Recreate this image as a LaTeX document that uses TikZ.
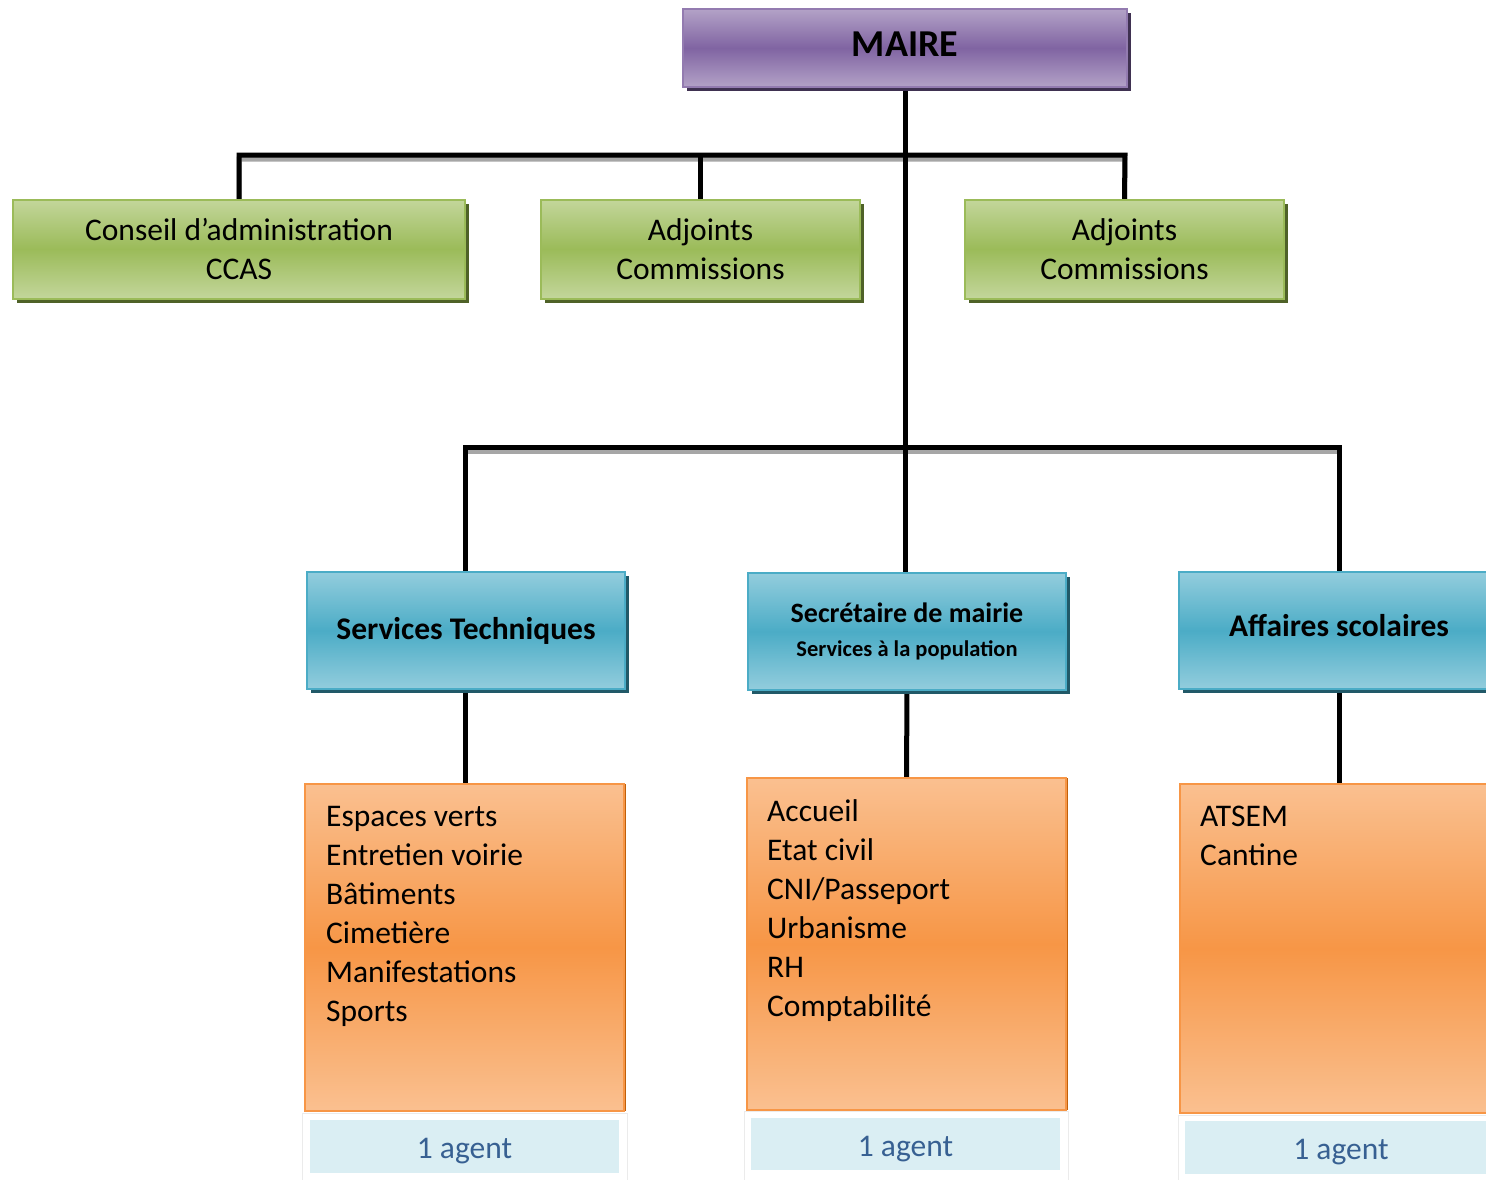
\documentclass[tikz,border=0pt]{standalone}
\usepackage{fontspec}
\setmainfont{Carlito}
\usetikzlibrary{shadows,backgrounds}
\definecolor{purT}{HTML}{B3A2C7}
\definecolor{purM}{HTML}{8064A2}
\definecolor{purS}{HTML}{3F3151}
\definecolor{grnT}{HTML}{C3D69B}
\definecolor{grnM}{HTML}{9BBB59}
\definecolor{grnS}{HTML}{4F6228}
\definecolor{bluT}{HTML}{93CDDD}
\definecolor{bluM}{HTML}{4BACC6}
\definecolor{bluS}{HTML}{215968}
\definecolor{orgT}{HTML}{FAC090}
\definecolor{orgM}{HTML}{F79646}
\definecolor{orgS}{HTML}{C0600A}
\definecolor{agtF}{HTML}{DAEEF3}
\definecolor{agtT}{HTML}{376092}
\tikzset{
  boxbase/.style={draw, line width=2pt, inner sep=0pt, align=center},
  mairebox/.style={boxbase, draw=purM!85!white, top color=purT, bottom color=purT, middle color=purM,
    drop shadow={shadow xshift=4pt, shadow yshift=-4pt, fill=purS, opacity=1},
    font=\fontsize{38}{45}\selectfont\bfseries},
  greenbox/.style={boxbase, draw=grnM, top color=grnT, bottom color=grnT, middle color=grnM,
    drop shadow={shadow xshift=4pt, shadow yshift=-4pt, fill=grnS, opacity=1},
    minimum height=99pt, font=\fontsize{31.5}{39}\selectfont},
  bluebox/.style={boxbase, draw=bluM, top color=bluT, bottom color=bluT, middle color=bluM,
    drop shadow={shadow xshift=4pt, shadow yshift=-4pt, fill=bluS, opacity=1},
    minimum height=117pt, minimum width=318pt, font=\fontsize{31.5}{39}\selectfont\bfseries},
  orangebox/.style={boxbase, draw=orgM, top color=orgT, bottom color=orgT, middle color=orgM,
    drop shadow={shadow xshift=2pt, shadow yshift=0pt, fill=orgS, opacity=1},
    minimum width=319pt},
  listtext/.style={anchor=north west, inner sep=0pt, align=left, font=\fontsize{31.5}{39}\selectfont},
  agentbox/.style={fill=agtF, draw=none, inner sep=0pt, minimum height=53pt, minimum width=309pt,
    text=agtT, font=\fontsize{31.5}{39}\selectfont},
  agentframe/.style={draw=black!8, line width=1pt, fill=white},
  conn/.style={line width=5pt, line join=miter, line cap=rect,
    preaction={draw=black!35, line width=5pt, transform canvas={yshift=-4pt}}},
}
\begin{document}
\begin{tikzpicture}[x=1pt,y=-1pt]
\useasboundingbox (0,0) rectangle (1486,1179);
\clip (0,0) rectangle (1486,1179);

% top
\node[mairebox, minimum width=444pt, minimum height=78pt] (maire) at (905,48) {\raisebox{-8pt}[0pt][0pt]{MAIRE}};
\node[greenbox, minimum width=452pt] (ccas) at (239,249) {Conseil d’administration\\CCAS};
\node[greenbox, minimum width=319pt] (adj1) at (700.5,249) {Adjoints\\Commissions};
\node[greenbox, minimum width=319pt] (adj2) at (1124.5,249) {Adjoints\\Commissions};

% services
\node[bluebox] (tech) at (466,630.5) {Services Techniques};
\node[bluebox, font=\fontsize{28}{34}\selectfont\bfseries] (sec) at (907,631.5) {Secrétaire de mairie\\{\fontsize{22.5}{28}\selectfont Services à la population}};
\node[bluebox, minimum width=320pt] (aff) at (1339,630.5) {\raisebox{-6pt}[0pt][0pt]{Affaires scolaires}};

% orange
\node[orangebox, minimum height=327pt] (o1) at (464.5,947.5) {};
\node[orangebox, minimum height=332pt] (o2) at (906.5,944) {};
\node[orangebox, minimum height=329pt, minimum width=320pt] (o3) at (1340,948.5) {};

\node[listtext] (t1) at ([xshift=22pt,yshift=-23pt]o1.north west) {Espaces verts\\Entretien voirie\\Bâtiments\\Cimetière\\Manifestations\\Sports};
\node[listtext] (t2) at ([xshift=21pt,yshift=-22pt]o2.north west) {Accueil\\Etat civil\\CNI/Passeport\\Urbanisme\\RH\\Comptabilité};
\node[listtext] (t3) at ([xshift=21pt,yshift=-23pt]o3.north west) {ATSEM\\Cantine};

% agents
\draw[agentframe] (302,1113) rectangle (627,1182);
\draw[agentframe] (744,1111) rectangle (1068,1182);
\draw[agentframe] (1178,1115) rectangle (1500,1182);
\node[agentbox] (a1) at (464.5,1146.5) {\raisebox{-12pt}[0pt][0pt]{1 agent}};
\node[agentbox, minimum height=52pt] (a2) at (905.5,1144) {\raisebox{-12pt}[0pt][0pt]{1 agent}};
\node[agentbox, minimum width=312pt] (a3) at (1341,1147.5) {\raisebox{-12pt}[0pt][0pt]{1 agent}};

\begin{pgfonlayer}{background}
\fill[white] (0,0) rectangle (1486,1179);
\coordinate (bar1) at (1125,155);
\coordinate (bar2) at (1339,447);
\draw[conn] (ccas.north) |- (bar1) -- (adj2.north);
\draw[conn] (adj1.north) -- (adj1.north |- bar1);
\draw[conn] (tech.north -| 465,0) |- (bar2) -- (aff.north);
\draw[line width=5pt] (maire.south) -- (sec.north -| 905,0);
\draw[line width=5pt] (465,689) -- (o1.north -| 465,0);
\draw[line width=5pt] (sec.south) -- (o2.north);
\draw[line width=5pt] (aff.south) -- (o3.north -| aff.south);
\end{pgfonlayer}
\end{tikzpicture}
\end{document}
